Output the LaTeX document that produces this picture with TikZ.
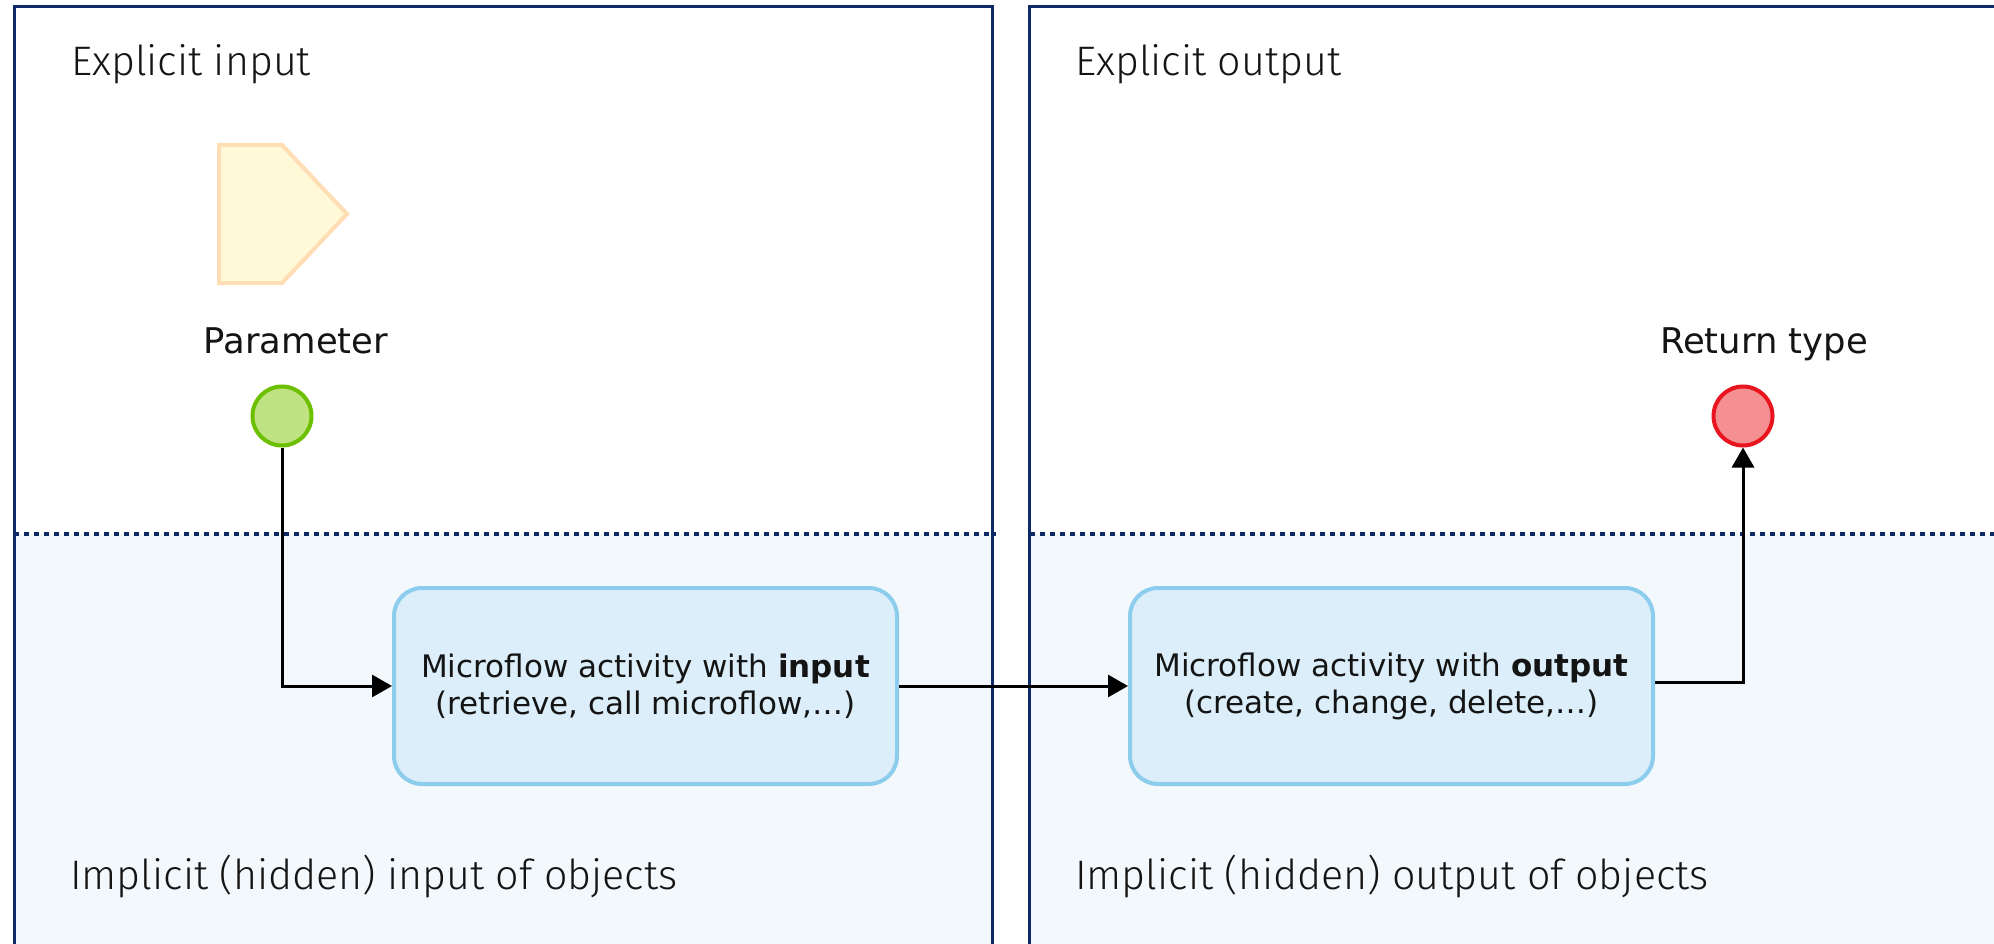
\documentclass[tikz,border=0pt]{standalone}
\usepackage{fontspec}
\setmainfont{DejaVu Sans}
\newfontfamily\titlefont{Fira Sans}[UprightFont={* Light}]
\usetikzlibrary{arrows.meta,calc}
\definecolor{navy}{HTML}{0E2A66}
\definecolor{lowfill}{HTML}{F3F8FC}
\definecolor{boxfill}{HTML}{DBEEF9}
\definecolor{boxline}{HTML}{8CCDEE}
\definecolor{pentfill}{HTML}{FFF9D8}
\definecolor{pentline}{HTML}{FFDDB5}
\definecolor{grfill}{HTML}{BFE383}
\definecolor{grline}{HTML}{6CC000}
\definecolor{rdfill}{HTML}{F48F92}
\definecolor{rdline}{HTML}{E8141E}
\definecolor{txt}{HTML}{141414}
\tikzset{
  paneltitle/.style={inner sep=0pt, anchor=base west, text=txt, font=\titlefont\fontsize{41.2}{49}\selectfont},
  eventlabel/.style={inner sep=0pt, anchor=base, text=txt, font=\fontsize{35.4}{42}\selectfont},
  activity/.style={draw=boxline, fill=boxfill, line width=4pt, rounded corners=28pt,
    minimum height=196pt, align=center, text=txt,
    font=\fontsize{31}{37}\selectfont},
  event/.style={circle, line width=4pt, minimum size=59pt, inner sep=0pt},
  flow/.style={draw=black, line width=3pt, -{Triangle[length=20pt,width=22pt]}},
  frame/.style={draw=navy, line width=3pt},
  divider/.style={draw=navy, line width=4pt, dash pattern=on 5pt off 5pt}
}
\begin{document}
\begin{tikzpicture}[x=1pt,y=-1pt]
\useasboundingbox (0,0) rectangle (1994,944);
\clip (0,0) rectangle (1994,944);
\fill[white] (0,0) rectangle (1994,944);
% lower (implicit) areas
\fill[lowfill] (14,534) rectangle (992,960);
\fill[lowfill] (1029,534) rectangle (2010,960);
% panel frames
\draw[frame] (14,960) -- (14,7) -- (992,7) -- (992,960);
\draw[frame] (1029,960) -- (1029,7) -- (2010,7);
% dotted dividers
\draw[divider] (14,534) -- (996,534);
\draw[divider] (1030,534) -- (1994,534);
% panel titles
\node[paneltitle] (tin) at (71,76) {Explicit input};
\node[paneltitle] (tout) at (1075,76) {Explicit output};
\node[paneltitle] (hin) at (70,889) {Implicit (hidden) input of objects};
\node[paneltitle] (hout) at (1075,889) {Implicit (hidden) output of objects};
% parameter shape
\draw[draw=pentline, fill=pentfill, line width=4pt, line join=miter]
  (219,145) -- (282,145) -- (347,214) -- (282,283) -- (219,283) -- cycle;
% events
\node[eventlabel] (plabel) at (296,353) {Parameter};
\node[event, draw=grline, fill=grfill] (param) at (282,416) {};
\node[eventlabel] (rlabel) at (1764,353) {Return type};
\node[event, draw=rdline, fill=rdfill] (ret) at (1743,416) {};
% activities
\node[activity, minimum width=503pt] (act1) at (645.5,686) {Microflow activity with \textbf{input}\\(retrieve, call microflow,\ldots)};
\node[activity, minimum width=523pt] (act2) at (1391.5,686) {Microflow activity with \textbf{output}\\(create, change, delete,\ldots)};
% connectors
\coordinate (out2) at ($(act2.east)+(0,-4)$);
\draw[flow] (param.south) |- (act1.west);
\draw[flow] (act1.east) -- (act2.west);
\draw[flow] (out2) -| (ret.south);
\end{tikzpicture}
\end{document}
